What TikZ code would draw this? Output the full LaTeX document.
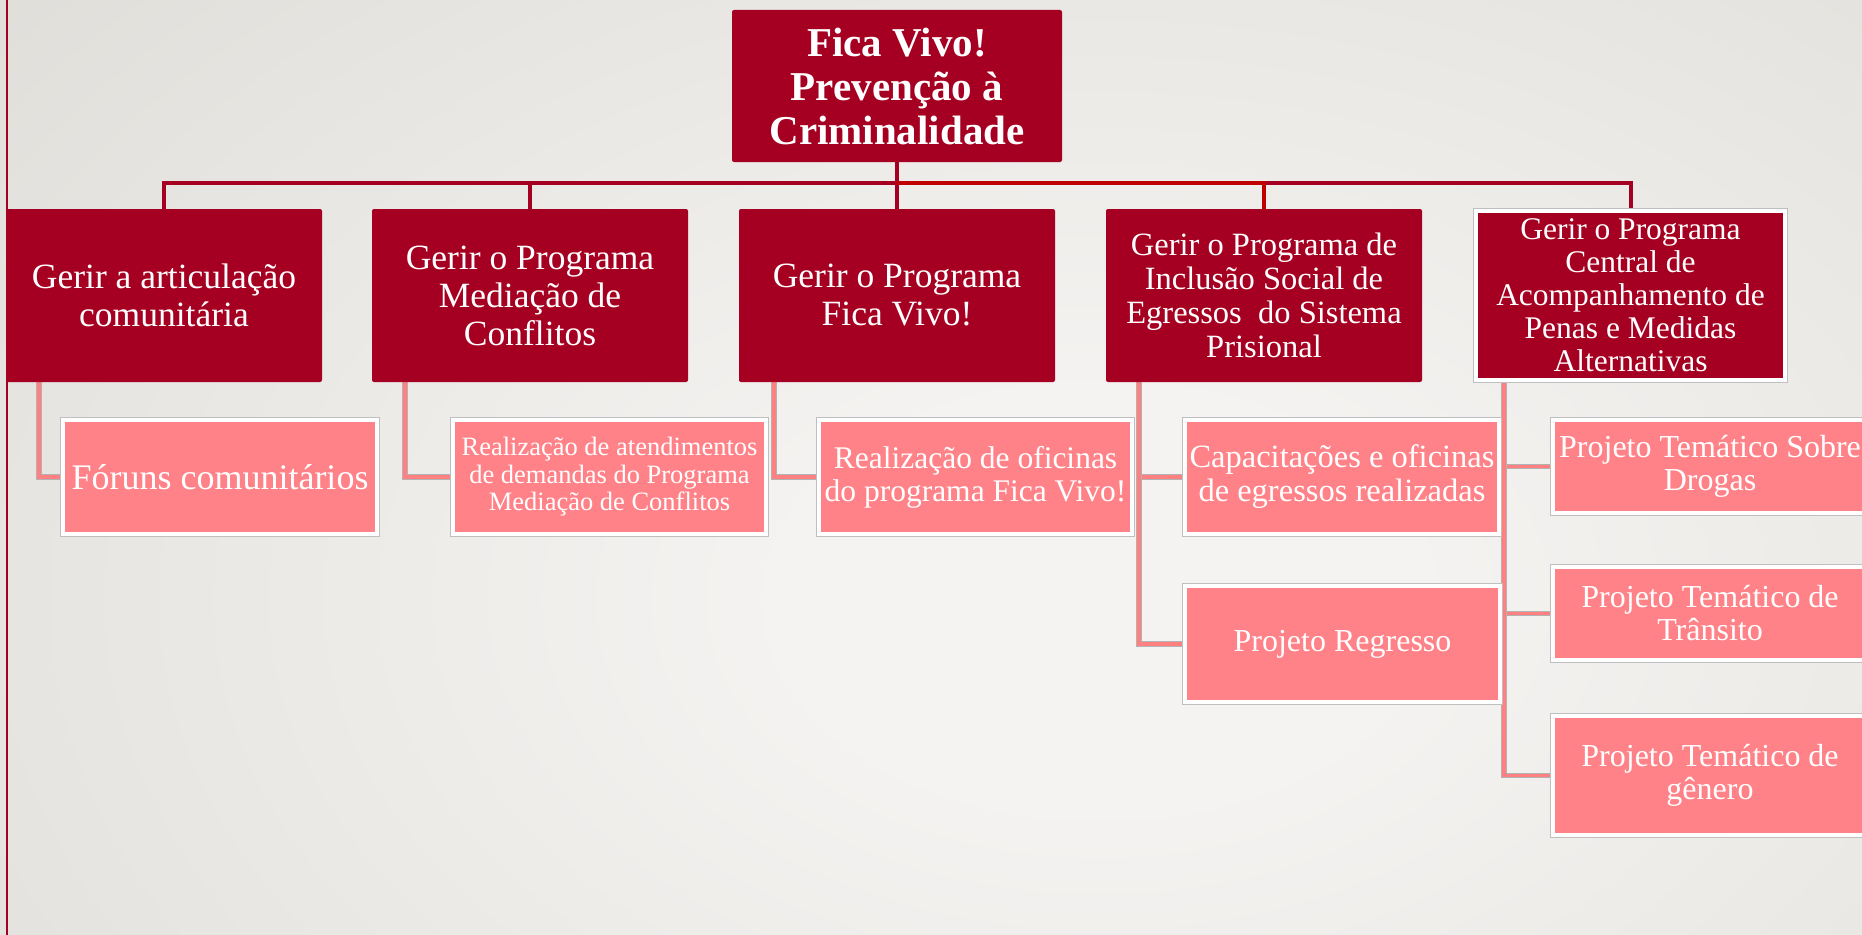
\documentclass[tikz,border=0pt]{standalone}
\usepackage{fontspec}
\setmainfont{Liberation Serif}
\definecolor{dred}{HTML}{A50021}
\definecolor{bred}{HTML}{C00000}
\definecolor{pinkbox}{HTML}{FF8288}
\definecolor{pinkline}{HTML}{FF8080}
\definecolor{bgin}{HTML}{F4F3F1}
\definecolor{bgout}{HTML}{CFCDC6}
\pgfdeclareradialshading{bgshade}{\pgfpoint{0bp}{0bp}}{color(0bp)=(bgin); color(6bp)=(bgin); color(46bp)=(bgout); color(80bp)=(bgout)}
\pgfdeclarelayer{back}
\pgfdeclarelayer{wires}
\pgfsetlayers{back,wires,main}
\begin{document}
\begin{tikzpicture}[x=1pt,y=-1pt,
 topbox/.style={fill=dred, rounded corners=2pt, text=white, align=center, inner sep=0pt,
   font=\bfseries\fontsize{41}{44}\selectfont, minimum width=330pt, minimum height=152pt},
 midbox/.style={fill=dred, rounded corners=2pt, text=white, align=center, inner sep=0pt,
   minimum width=316pt, minimum height=173pt},
 framedmid/.style={fill=dred, draw=white, line width=4pt, preaction={draw=black!25, line width=5.5pt},
   text=white, align=center, inner sep=0pt, minimum width=309pt, minimum height=169pt},
 leafbox/.style={fill=pinkbox, draw=white, line width=4pt, preaction={draw=black!25, line width=5.5pt},
   text=white, align=center, inner sep=0pt},
 busline/.style={draw=dred, line width=4pt},
 busred/.style={draw=bred, line width=4pt},
 leafline/.style={draw=pinkline, line width=3.5pt, preaction={draw=black!30, line width=5.5pt}},
 fmid/.style={font=\fontsize{35.5}{38}\selectfont},
 fleaf/.style={font=\fontsize{32}{33}\selectfont},
]
\useasboundingbox (0,0) rectangle (1862,934);
\clip (0,0) rectangle (1862,934);
\begin{pgfonlayer}{back}
\shade[shading=bgshade] (-200,-250) rectangle (2400,1450);
\draw[draw=dred, line width=2.5pt] (7,-5) -- (7,940);
\end{pgfonlayer}

% top
\node[topbox] (top) at (897,86) {Fica Vivo!\\Prevenção à\\Criminalidade};
\coordinate (bus) at (897,183);

% level 2
\node[midbox, fmid] (B1) at (164,295.5) {Gerir a articulação\\comunitária};
\node[midbox, fmid] (B2) at (530,295.5) {Gerir o Programa\\Mediação de\\Conflitos};
\node[midbox, fmid] (B3) at (897,295.5) {Gerir o Programa\\Fica Vivo!};
\node[midbox, font=\fontsize{32.5}{34}\selectfont] (B4) at (1264,295.5)
  {Gerir o Programa de\\Inclusão Social de\\Egressos \ do Sistema\\Prisional};
\node[framedmid, font=\fontsize{31.5}{33}\selectfont] (B5) at (1630.5,295.5)
  {Gerir o Programa\\Central de\\Acompanhamento de\\Penas e Medidas\\Alternativas};

% level 3
\node[leafbox, font=\fontsize{36}{38}\selectfont, minimum width=314pt, minimum height=114pt] (C1) at (220,477) {Fóruns comunitários};
\node[leafbox, font=\fontsize{26.5}{27.5}\selectfont, minimum width=313pt, minimum height=114pt] (C2) at (609.5,477)
  {Realização de atendimentos\\de demandas do Programa\\Mediação de Conflitos};
\node[leafbox, font=\fontsize{31.5}{33}\selectfont, minimum width=313pt, minimum height=114pt] (C3) at (975.5,477)
  {Realização de oficinas\\do programa Fica Vivo!};
\node[leafbox, font=\fontsize{32.5}{34}\selectfont, minimum width=314pt, minimum height=114pt] (C4a) at (1342,477)
  {Capacitações e oficinas\\de egressos realizadas};
\node[leafbox, fleaf, minimum width=315pt, minimum height=116pt] (C4b) at (1342.5,644) {Projeto Regresso};
\node[leafbox, fleaf, minimum width=314pt, minimum height=93pt] (C5a) at (1710,466.5) {Projeto Temático Sobre\\Drogas};
\node[leafbox, fleaf, minimum width=314pt, minimum height=93pt] (C5b) at (1710,613.5) {Projeto Temático de\\Trânsito};
\node[leafbox, fleaf, minimum width=314pt, minimum height=119pt] (C5c) at (1710,775.5) {Projeto Temático de\\gênero};

\begin{pgfonlayer}{wires}
\draw[busline] (top.south) -- (bus);
\draw[busline] (bus) -| (B1.north);
\draw[busline] (bus) -| (B2.north);
\draw[busline] (bus) -- (B3.north);
\draw[busline] (bus) -| (B5.north);
\draw[busred] (bus) -| (B4.north);

\draw[leafline] ([xshift=33pt]B1.south west) |- (C1.west);
\draw[leafline] ([xshift=33pt]B2.south west) |- (C2.west);
\draw[leafline] ([xshift=35pt]B3.south west) |- (C3.west);
\draw[leafline] ([xshift=33pt]B4.south west) |- (C4a.west);
\draw[leafline] ([xshift=33pt]B4.south west) |- (C4b.west);
\draw[leafline] ([xshift=30pt]B5.south west) |- (C5a.west);
\draw[leafline] ([xshift=30pt]B5.south west) |- (C5b.west);
\draw[leafline] ([xshift=30pt]B5.south west) |- (C5c.west);
\end{pgfonlayer}
\end{tikzpicture}
\end{document}
